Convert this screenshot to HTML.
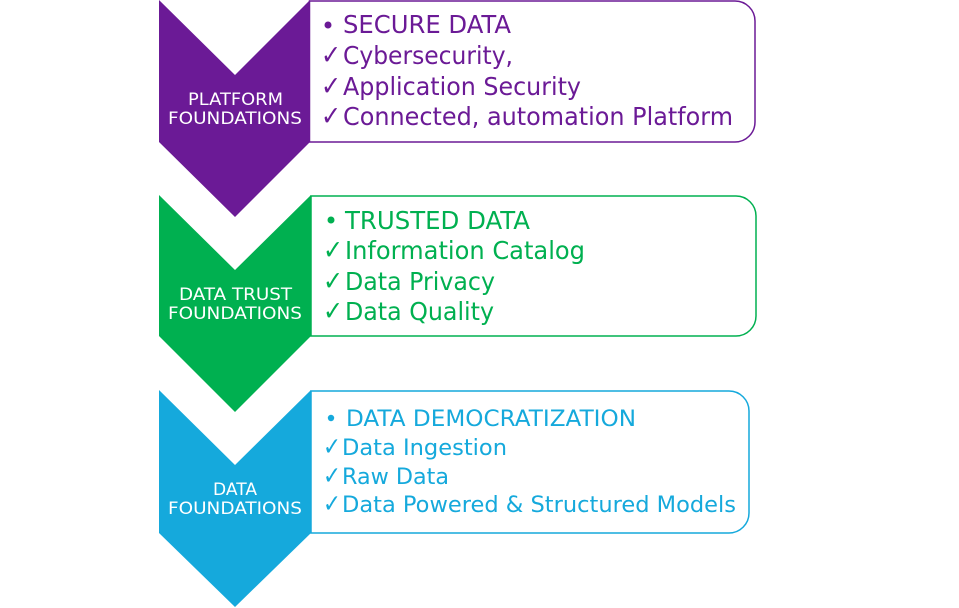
<!DOCTYPE html>
<html><head><meta charset="utf-8"><style>
html,body{margin:0;padding:0;background:#fff;}
svg{display:block;}
text{font-family:"DejaVu Sans","Liberation Sans",sans-serif;}
</style></head><body>
<svg width="959" height="608" viewBox="0 0 959 608" xmlns="http://www.w3.org/2000/svg">
<!-- Purple -->
<path d="M309.5,1 H735 A20,20 0 0 1 755,21 V122 A20,20 0 0 1 735,142 H309.5 Z" fill="#fff" stroke="#6b1a96" stroke-width="1.5"/>
<polygon points="159,0 235,75 310,0 310,142 235,217 159,142" fill="#6b1a96"/>
<text x="188" y="105" fill="#fff" font-size="17" textLength="95" lengthAdjust="spacingAndGlyphs">PLATFORM</text>
<text x="168" y="124" fill="#fff" font-size="17" textLength="134" lengthAdjust="spacingAndGlyphs">FOUNDATIONS</text>
<g fill="#6b1a96" font-size="25">
<circle cx="328" cy="25" r="3.5"/>
<text x="343" y="33" textLength="168" lengthAdjust="spacingAndGlyphs">SECURE DATA</text>
<text x="321" y="64" font-size="27" textLength="20" lengthAdjust="spacingAndGlyphs">✓</text><text x="343" y="64" textLength="170" lengthAdjust="spacingAndGlyphs">Cybersecurity,</text>
<text x="321" y="95" font-size="27" textLength="20" lengthAdjust="spacingAndGlyphs">✓</text><text x="343" y="95" textLength="238" lengthAdjust="spacingAndGlyphs">Application Security</text>
<text x="321" y="125" font-size="27" textLength="20" lengthAdjust="spacingAndGlyphs">✓</text><text x="343" y="125" textLength="390" lengthAdjust="spacingAndGlyphs">Connected, automation Platform</text>
</g>
<!-- Green -->
<path d="M311,196 H736 A20,20 0 0 1 756,216 V316 A20,20 0 0 1 736,336 H311 Z" fill="#fff" stroke="#00b050" stroke-width="1.5"/>
<polygon points="159,195 235,270 311,195 311,336 235,412 159,336" fill="#00b050"/>
<text x="179" y="300" fill="#fff" font-size="17" textLength="113" lengthAdjust="spacingAndGlyphs">DATA TRUST</text>
<text x="168" y="319" fill="#fff" font-size="17" textLength="134" lengthAdjust="spacingAndGlyphs">FOUNDATIONS</text>
<g fill="#00b050" font-size="25">
<circle cx="331" cy="220" r="3.5"/>
<text x="345" y="229" textLength="185" lengthAdjust="spacingAndGlyphs">TRUSTED DATA</text>
<text x="323" y="259" font-size="27" textLength="20" lengthAdjust="spacingAndGlyphs">✓</text><text x="345" y="259" textLength="240" lengthAdjust="spacingAndGlyphs">Information Catalog</text>
<text x="323" y="290" font-size="27" textLength="20" lengthAdjust="spacingAndGlyphs">✓</text><text x="345" y="290" textLength="150" lengthAdjust="spacingAndGlyphs">Data Privacy</text>
<text x="323" y="320" font-size="27" textLength="20" lengthAdjust="spacingAndGlyphs">✓</text><text x="345" y="320" textLength="149" lengthAdjust="spacingAndGlyphs">Data Quality</text>
</g>
<!-- Blue -->
<path d="M311,391 H729 A20,20 0 0 1 749,411 V513 A20,20 0 0 1 729,533 H311 Z" fill="#fff" stroke="#15a9dc" stroke-width="1.5"/>
<polygon points="159,390 235,465 311,390 311,533 235,607 159,533" fill="#15a9dc"/>
<text x="213" y="495" fill="#fff" font-size="17" textLength="44" lengthAdjust="spacingAndGlyphs">DATA</text>
<text x="168" y="514" fill="#fff" font-size="17" textLength="134" lengthAdjust="spacingAndGlyphs">FOUNDATIONS</text>
<g fill="#15a9dc" font-size="22.5">
<circle cx="331" cy="418" r="3.2"/>
<text x="346" y="426" textLength="290" lengthAdjust="spacingAndGlyphs">DATA DEMOCRATIZATION</text>
<text x="323" y="455" font-size="25" textLength="18" lengthAdjust="spacingAndGlyphs">✓</text><text x="342" y="455" textLength="165" lengthAdjust="spacingAndGlyphs">Data Ingestion</text>
<text x="323" y="484" font-size="25" textLength="18" lengthAdjust="spacingAndGlyphs">✓</text><text x="342" y="484" textLength="107" lengthAdjust="spacingAndGlyphs">Raw Data</text>
<text x="323" y="512" font-size="25" textLength="18" lengthAdjust="spacingAndGlyphs">✓</text><text x="342" y="512" textLength="394" lengthAdjust="spacingAndGlyphs">Data Powered &amp; Structured Models</text>
</g>
</svg>
</body></html>
